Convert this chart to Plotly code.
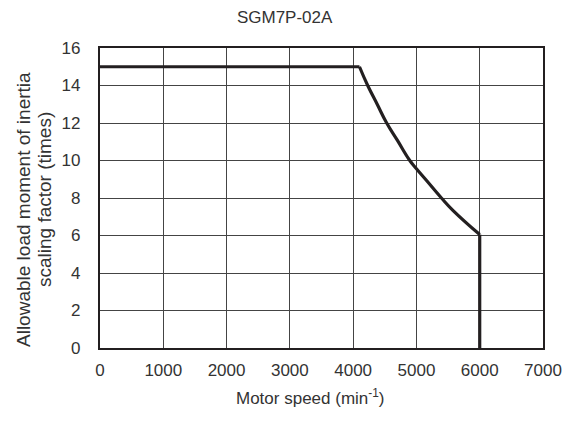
import plotly.graph_objects as go

# curve
flat_x = [0, 4100]
flat_y = [15, 15]
curve_x = [4100, 4230, 4380, 4530, 4700, 4895, 5000, 5160, 5395, 5580, 6000]
curve_y = [15, 14, 13, 12, 11.07, 10, 9.56, 8.93, 8, 7.33, 6.05]
drop_x = [6000, 6000]
drop_y = [6.05, 0]

x_ticks = [0, 1000, 2000, 3000, 4000, 5000, 6000, 7000]
y_ticks = [0, 2, 4, 6, 8, 10, 12, 14, 16]

font_name = "Liberation Sans, Arial, sans-serif"
ink = "#231f20"
txt = "#333333"

W, H = 575, 428
L, R, T, B = 100, 32, 48, 80
pw, ph = W - L - R, H - T - B

fig = go.Figure()
for xs, ys, shp in [(flat_x, flat_y, "linear"), (curve_x, curve_y, "spline"), (drop_x, drop_y, "linear")]:
    fig.add_trace(go.Scatter(
        x=xs, y=ys, mode="lines",
        line=dict(color=ink, width=3.2, shape=shp, smoothing=1.3),
        showlegend=False, hoverinfo="skip",
    ))

fig.update_layout(
    width=W, height=H,
    margin=dict(l=L, r=R, t=T, b=B, autoexpand=False),
    paper_bgcolor="white", plot_bgcolor="white",
    font=dict(family=font_name, color=txt, size=17),
    title=dict(text="SGM7P-02A", x=0.495, xanchor="center", y=1 - 17 / H, yanchor="middle",
               font=dict(size=17, color=txt)),
)
fig.update_xaxes(
    range=[0, 7000], tickvals=x_ticks, ticks="", ticklabelstandoff=5,
    showgrid=True, gridcolor="#444444", gridwidth=1,
    showline=True, linecolor=ink, linewidth=2.2, mirror=True,
    zeroline=False, automargin=False,
)
fig.update_yaxes(
    range=[0, 16], tickvals=y_ticks, ticks="", ticklabelstandoff=14,
    showgrid=True, gridcolor="#444444", gridwidth=1,
    showline=True, linecolor=ink, linewidth=2.2, mirror=True,
    zeroline=False, automargin=False,
)

fig.add_annotation(
    text="Motor speed (min<sup>-1</sup>)", xref="paper", yref="paper",
    x=(310 - L) / pw, y=(H - B - 397) / ph, xanchor="center", yanchor="middle",
    showarrow=False, font=dict(size=17, color=txt),
)
# y title: two separate lines to get the tight line spacing
for line_text, px_x, px_y in [("Allowable load moment of inertia", 23, 210),
                              ("scaling factor (times)", 45, 200)]:
    fig.add_annotation(
        text=line_text, xref="paper", yref="paper", textangle=-90,
        x=(px_x - L) / pw, y=(H - B - px_y) / ph, xanchor="center", yanchor="middle",
        showarrow=False, font=dict(size=19, color=txt),
    )

fig.write_html("out.html", config={"displayModeBar": False},
               post_script="document.body.style.margin='0';")
